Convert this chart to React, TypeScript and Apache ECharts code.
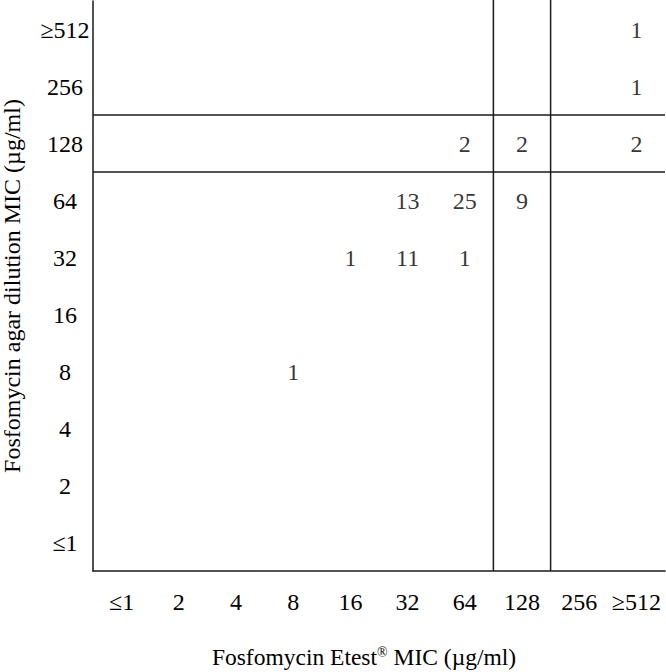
import React, { useEffect, useRef } from "react";
import * as echarts from "echarts";

const etestCategories = ["≤1", "2", "4", "8", "16", "32", "64", "128", "256", "≥512"];
const agarCategories = ["≤1", "2", "4", "8", "16", "32", "64", "128", "256", "≥512"];

// [Etest MIC, agar dilution MIC, number of isolates]
const isolateCounts: [string, string, number][] = [
  ["8", "8", 1],
  ["16", "32", 1],
  ["32", "32", 11],
  ["32", "64", 13],
  ["64", "32", 1],
  ["64", "64", 25],
  ["64", "128", 2],
  ["128", "64", 9],
  ["128", "128", 2],
  ["≥512", "128", 2],
  ["≥512", "256", 1],
  ["≥512", "≥512", 1],
];

// breakpoint lines drawn at the lower edge of these categories
const etestBreakpoints = ["128", "256"];
const agarBreakpoints = ["128", "256"];

const FONT = "Liberation Serif";
const INK = "#1a1a1a";
const FS = 24;

export default function App() {
  const ref = useRef<HTMLDivElement>(null);
  useEffect(() => {
    if (!ref.current) return;
    const chart = echarts.init(ref.current, undefined, { renderer: "svg" });
    const lineStyle = { stroke: INK, lineWidth: 1.5 };
    chart.setOption({
      animation: false,
      backgroundColor: "#fff",
      grid: { left: 93, right: 1, top: 1, bottom: 101, containLabel: false, outerBoundsMode: "none" },
      xAxis: {
        type: "category",
        data: etestCategories,
        boundaryGap: true,
        axisLine: { lineStyle: { color: INK, width: 1.5 } },
        axisTick: { show: false },
        splitLine: { show: false },
        axisLabel: { fontFamily: FONT, fontSize: FS, color: "#000", margin: 19, interval: 0 },
        name: "Fosfomycin Etest{sup|®} MIC (µg/ml)",
        nameLocation: "middle",
        nameGap: 74,
        nameTextStyle: {
          fontFamily: FONT,
          fontSize: 23.5,
          color: "#000",
          padding: [0, 30, 0, 0],
          rich: {
            sup: { fontFamily: FONT, fontSize: 14, color: "#000", padding: [0, 0, 10, 0] },
          },
        },
      },
      yAxis: {
        type: "category",
        data: agarCategories,
        boundaryGap: true,
        axisLine: { lineStyle: { color: INK, width: 1.5 } },
        axisTick: { show: false },
        splitLine: { show: false },
        axisLabel: { fontFamily: FONT, fontSize: FS, color: "#000", margin: 28, align: "center", interval: 0 },
        name: "Fosfomycin agar dilution MIC (µg/ml)",
        nameLocation: "middle",
        nameGap: 69,
        nameTextStyle: { fontFamily: FONT, fontSize: FS, color: "#000" },
      },
      series: [
        {
          type: "scatter",
          data: isolateCounts,
          symbolSize: 1,
          itemStyle: { color: "rgba(0,0,0,0)" },
          label: {
            show: true,
            position: "inside",
            formatter: (p: any) => String(p.value[2]),
            fontFamily: FONT,
            fontSize: FS,
            color: "#000",
          },
        },
        {
          type: "custom",
          data: etestBreakpoints.map((c) => [c, agarCategories[0]]),
          renderItem: (params: any, api: any) => {
            const p = api.coord([api.value(0), api.value(1)]);
            const w = api.size([1, 1])[0];
            const cs = params.coordSys;
            const x = p[0] - w / 2;
            return {
              type: "line",
              shape: { x1: x, y1: cs.y - 1, x2: x, y2: cs.y + cs.height },
              style: lineStyle,
            };
          },
          silent: true,
        },
        {
          type: "custom",
          data: agarBreakpoints.map((c) => [etestCategories[0], c]),
          renderItem: (params: any, api: any) => {
            const p = api.coord([api.value(0), api.value(1)]);
            const h = api.size([1, 1])[1];
            const cs = params.coordSys;
            const y = p[1] + h / 2;
            return {
              type: "line",
              shape: { x1: cs.x, y1: y, x2: cs.x + cs.width, y2: y },
              style: lineStyle,
            };
          },
          silent: true,
        },
      ],
    });
    return () => chart.dispose();
  }, []);
  return <div ref={ref} style={{ width: 666, height: 672, position: "absolute", left: 0, top: 0 }} />;
}
